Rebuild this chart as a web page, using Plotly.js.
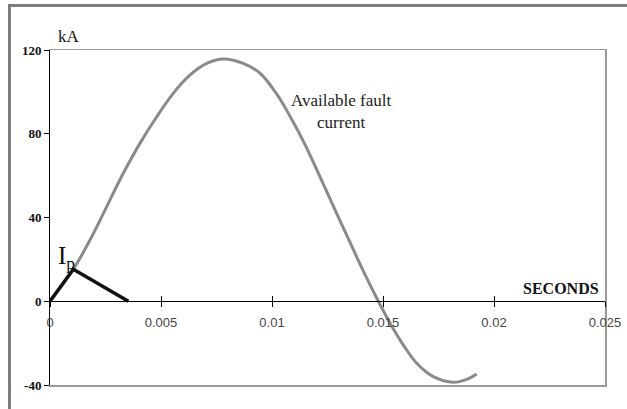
<!DOCTYPE html>
<html>
<head>
<meta charset="utf-8">
<script src="https://cdn.plot.ly/plotly-3.0.1.min.js"></script>
<style>
  html, body { margin: 0; padding: 0; background: #fff; }
  #chart { position: absolute; left: 0; top: 0; width: 627px; height: 409px; }
  #frame { position: absolute; left: 8px; top: 4px; width: 640px; height: 420px;
           border-top: 3px solid #7c7c7c; border-left: 3px solid #7c7c7c; pointer-events: none; }
</style>
</head>
<body>
<div id="chart"></div>
<div id="frame"></div>
<script>
// Available fault current (kA) vs time (s)
const timeS = [0, 0.00105, 0.0018, 0.00255, 0.0033, 0.00405, 0.0048, 0.00555, 0.0063, 0.00706,
               0.0078, 0.0087, 0.00946, 0.01021, 0.01096, 0.01141, 0.01186, 0.01291, 0.01351,
               0.01411, 0.01479, 0.01532, 0.01591, 0.01652, 0.01727, 0.01817, 0.01877, 0.01922];
const currentKA = [0, 15.3, 29.2, 45.1, 61.1, 75.4, 88, 99.3, 108, 113.6,
                   115.7, 113.6, 108.9, 99, 85.5, 76.5, 66.5, 42, 28.2,
                   14.5, 0, -10.5, -20.8, -29.6, -36, -38.7, -37.3, -34.7];
// Let-through (Ip) triangle
const ipT = [0, 0.00105, 0.00353];
const ipKA = [0, 15.3, 0];

const xTicks = [0, 0.005, 0.01, 0.015, 0.02, 0.025];
const xTickText = ["0", "0.005", "0.01", "0.015", "0.02", "0.025"];
const yTicks = [-40, 0, 40, 80, 120];
const yTickText = ["-40", "0", "40", "80", "120"];

const xRange = [0, 0.025];
const yRange = [-40, 120];

const traces = [
  { x: timeS, y: currentKA, mode: 'lines', line: { color: '#8a8a8a', width: 3, shape: 'spline', smoothing: 1 },
    hoverinfo: 'skip', xaxis: 'x', yaxis: 'y' },
  { x: ipT, y: ipKA, mode: 'lines', line: { color: '#111', width: 3.5 }, hoverinfo: 'skip',
    xaxis: 'x', yaxis: 'y' },
  { x: [0], y: [0], mode: 'markers', marker: { opacity: 0 }, xaxis: 'x2', yaxis: 'y2', hoverinfo: 'skip' },
  { x: [0], y: [0], mode: 'markers', marker: { opacity: 0 }, xaxis: 'x3', yaxis: 'y', hoverinfo: 'skip' }
];

const serif = 'Liberation Serif';
const layout = {
  width: 627, height: 409,
  margin: { l: 50, r: 22, t: 50, b: 24 },
  paper_bgcolor: '#fff', plot_bgcolor: '#fff',
  showlegend: false,
  xaxis: {
    range: xRange, anchor: 'free', position: 0.25,
    showline: true, linecolor: '#000', linewidth: 1,
    ticks: 'outside', ticklen: 5, tickcolor: '#000', tickwidth: 1,
    tickvals: xTicks, ticktext: xTickText,
    tickfont: { family: 'Liberation Sans', size: 13, color: '#444' },
    ticklabelstandoff: 4,
    showgrid: false, zeroline: false, fixedrange: true
  },
  xaxis3: {
    range: xRange, overlaying: 'x', anchor: 'free', position: 0.25,
    showline: false, ticks: 'inside', ticklen: 5, tickcolor: '#000', tickwidth: 1,
    tickvals: xTicks, showticklabels: false, showgrid: false, zeroline: false
  },
  xaxis2: {
    range: xRange, overlaying: 'x', anchor: 'y2', side: 'bottom',
    showline: true, linecolor: '#999', linewidth: 1.5, mirror: true,
    ticks: '', showticklabels: false, showgrid: false, zeroline: false
  },
  yaxis: {
    range: yRange, showline: true, linecolor: '#000', linewidth: 1,
    ticks: 'outside', ticklen: 5, tickcolor: '#000', tickwidth: 1,
    tickvals: yTicks, ticktext: yTickText,
    tickfont: { family: serif, size: 13, color: '#111', weight: 'bold' },
    showgrid: false, zeroline: false, fixedrange: true
  },
  yaxis2: {
    range: yRange, overlaying: 'y', side: 'right', anchor: 'x2',
    showline: true, linecolor: '#999', linewidth: 1.5,
    ticks: '', showticklabels: false, showgrid: false, zeroline: false
  },
  annotations: [
    { x: 0.034, y: 1.04, xref: 'paper', yref: 'paper', xanchor: 'center', yanchor: 'middle',
      text: 'kA', showarrow: false, font: { family: serif, size: 17, color: '#111' } },
    { x: 0.02302, y: 6, xref: 'x', yref: 'y', text: '<b>SECONDS</b>', showarrow: false,
      font: { family: serif, size: 16, color: '#111' } },
    { x: 0.01315, y: 90.8, xref: 'x', yref: 'y', text: 'Available fault<br>current', showarrow: false,
      align: 'center', font: { family: serif, size: 17, color: '#222' } },
    { x: 0.00074, y: 20.8, xref: 'x', yref: 'y', text: 'I<sub>p</sub>', showarrow: false,
      font: { family: serif, size: 25, color: '#111' } }
  ]
};

Plotly.newPlot('chart', traces, layout, { staticPlot: true, displayModeBar: false });
</script>
</body>
</html>
